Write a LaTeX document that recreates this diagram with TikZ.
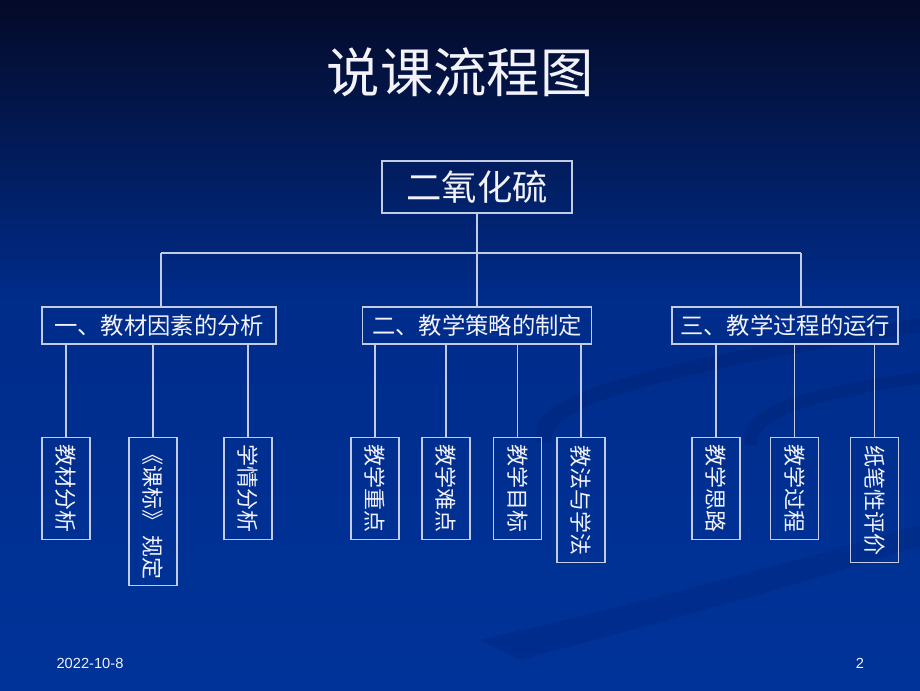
\documentclass[tikz,border=0pt]{standalone}
\usepackage{fontspec}
\setmainfont{Liberation Sans}
\newfontfamily\cjk{Noto Sans CJK SC}
\usepackage{tikz}
\usetikzlibrary{positioning,calc}

\definecolor{bgtop}{RGB}{4,10,40}
\definecolor{bgmid}{RGB}{0,44,138}
\definecolor{bgblue}{RGB}{0,51,153}
\definecolor{swoosh}{RGB}{0,30,110}
\definecolor{boxline}{RGB}{196,204,228}
\definecolor{textwhite}{RGB}{242,242,248}

\begin{document}
\begin{tikzpicture}[x=0.75pt,y=-0.75pt,
    box/.style={draw=boxline, line width=1pt, text=textwhite, inner sep=0pt},
    part/.style={box, minimum height=27.75pt, font=\cjk\fontsize{17.5}{20}\selectfont},
    leaf/.style={box, minimum width=36pt, anchor=north, font=\cjk\fontsize{16.5}{18}\selectfont},
    link/.style={draw=boxline, line width=1pt}]

    % background
    \useasboundingbox (0,0) rectangle (920,690);
    \shade[top color=bgtop, bottom color=bgmid] (0,0) rectangle (920,300);
    \shade[top color=bgmid, bottom color=bgblue] (0,299) rectangle (920,690);
    \fill[swoosh, opacity=0.3] (538,442) .. controls (520,395) and (640,365) .. (920,318)
        -- (920,332) .. controls (660,375) and (545,405) .. (552,442) -- cycle;
    \fill[swoosh, opacity=0.3] (745,445) .. controls (735,405) and (820,385) .. (920,372)
        -- (920,384) .. controls (825,397) and (755,415) .. (757,445) -- cycle;
    \fill[swoosh, opacity=0.22] (480,640) .. controls (650,600) and (800,560) .. (920,525)
        -- (920,545) .. controls (800,585) and (650,625) .. (520,660) -- cycle;

    % title
    \node[text=textwhite, font=\cjk\fontsize{40}{44}\selectfont] (title) at (460,72) {说课流程图};

    \node[box, minimum width=142.5pt, minimum height=39pt, font=\cjk\fontsize{26.5}{30}\selectfont] (topic) at (477,187) {二氧化硫};

    \node[part, minimum width=175.5pt] (p1) at (159,325.5) {一、教材因素的分析};
    \node[part, minimum width=171.75pt] (p2) at (477,325.5) {二、教学策略的制定};
    \node[part, minimum width=169.5pt] (p3) at (785,325.5) {三、教学过程的运行};

    \node[leaf, minimum height=76.5pt] (l11) at (66,437) {\rotatebox{-90}{教材分析}};
    \node[leaf, minimum height=111pt] (l12) at (153,437) {\rotatebox{-90}{《课标》\,规定}};
    \node[leaf, minimum height=76.5pt] (l13) at (248,437) {\rotatebox{-90}{学情分析}};

    \node[leaf, minimum height=76.5pt] (l21) at (375,437) {\rotatebox{-90}{教学重点}};
    \node[leaf, minimum height=76.5pt] (l22) at (446,437) {\rotatebox{-90}{教学难点}};
    \node[leaf, minimum height=76.5pt] (l23) at (517.5,437) {\rotatebox{-90}{教学目标}};
    \node[leaf, minimum height=93.75pt] (l24) at (581,437) {\rotatebox{-90}{教法与学法}};

    \node[leaf, minimum height=76.5pt] (l31) at (716,437) {\rotatebox{-90}{教学思路}};
    \node[leaf, minimum height=76.5pt] (l32) at (794.5,437) {\rotatebox{-90}{教学过程}};
    \node[leaf, minimum height=93.75pt] (l33) at (874.5,437) {\rotatebox{-90}{纸笔性评价}};

    % connectors
    \coordinate (j1) at (161,253);
    \coordinate (j3) at (801,253);
    \draw[link] (topic.south) -- (p2.north);
    \draw[link] (j1) -- (j3);
    \draw[link] (j1) -- (j1 |- p1.north);
    \draw[link] (j3) -- (j3 |- p3.north);
    \foreach \l in {l11,l12,l13}
        \draw[link] (\l.north) -- (\l.north |- p1.south);
    \foreach \l in {l21,l22,l23,l24}
        \draw[link] (\l.north) -- (\l.north |- p2.south);
    \foreach \l in {l31,l32,l33}
        \draw[link] (\l.north) -- (\l.north |- p3.south);

    % footer
    \node[text=textwhite, font=\fontsize{11}{12}\selectfont] (date) at (90,663) {2022-10-8};
    \node[text=textwhite, font=\fontsize{11}{12}\selectfont] (page) at (860,663) {2};
\end{tikzpicture}
\end{document}
